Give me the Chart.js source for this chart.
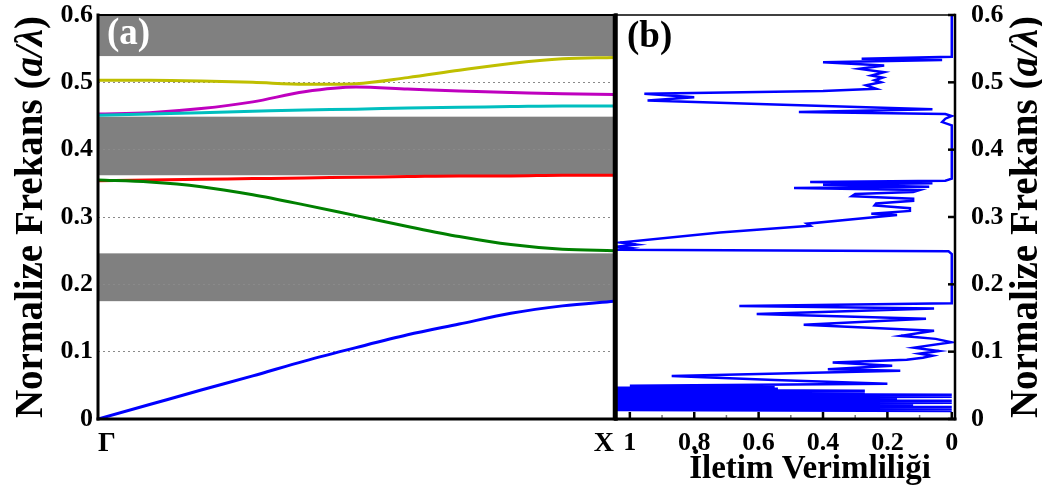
<!DOCTYPE html>
<html>
<head>
<meta charset="utf-8">
<script src="https://cdn.jsdelivr.net/npm/chart.js@4.4.0/dist/chart.umd.min.js"></script>
<style>
  html, body { margin: 0; padding: 0; background: #fff; }
  #wrap { position: relative; width: 1042px; height: 495px; overflow: hidden; }
  #bandChart { position: absolute; left: 0; top: 0; }
  #transChart { position: absolute; left: 600px; top: 0; }
</style>
</head>
<body>
<div id="wrap">
  <canvas id="bandChart" width="616" height="495"></canvas>
  <canvas id="transChart" width="442" height="495"></canvas>
</div>
<script>
// ---- panel (a): band structure, Gamma -> X ----
const kPath = [0, 0.1, 0.2, 0.3, 0.4, 0.5, 0.6, 0.7, 0.8, 0.9, 1];
const kLabels = ['Γ', 'X'];
const band1 = [0, 0.0215, 0.043, 0.064, 0.086, 0.106, 0.125, 0.141, 0.157, 0.168, 0.175];
const band2 = [0.355, 0.352, 0.345, 0.333, 0.318, 0.302, 0.286, 0.271, 0.259, 0.252, 0.250];
const band3 = [0.354, 0.355, 0.356, 0.357, 0.358, 0.359, 0.360, 0.361, 0.361, 0.362, 0.362];
const band4 = [0.451, 0.453, 0.455, 0.457, 0.459, 0.460, 0.462, 0.463, 0.464, 0.465, 0.465];
const band5 = [0.453, 0.455, 0.461, 0.471, 0.486, 0.493, 0.490, 0.487, 0.485, 0.483, 0.482];
const band6 = [0.503, 0.503, 0.502, 0.500, 0.497, 0.498, 0.507, 0.518, 0.528, 0.535, 0.537];
const bands = [band1, band2, band3, band4, band5, band6];
const bandColors = ['#0000ff', '#008000', '#ff0000', '#00bfbf', '#bf00bf', '#bfbf00'];
const gapRanges = [[0.175, 0.246], [0.362, 0.449], [0.539, 0.6]];
const freqTicks = [0, 0.1, 0.2, 0.3, 0.4, 0.5, 0.6];

// ---- panel (b): transmission vs frequency ----
const transTicks = [0, 0.2, 0.4, 0.6, 0.8, 1];
const transMinor = [0.1, 0.3, 0.5, 0.7, 0.9];
const transF = [
  0.012, 0.0135, 0.015, 0.0165, 0.018, 0.0195, 0.021, 0.0225, 0.024, 0.0255,
  0.027, 0.0285, 0.030, 0.0315, 0.033, 0.0345, 0.036, 0.0375, 0.039, 0.0405,
  0.042, 0.0435, 0.045, 0.0465, 0.048, 0.0495, 0.0525, 0.058, 0.064, 0.0715,
  0.074, 0.079, 0.084, 0.088, 0.091, 0.094, 0.097, 0.101, 0.106, 0.114,
  0.119, 0.1235, 0.131, 0.140, 0.149, 0.156, 0.164, 0.168, 0.172, 0.245,
  0.249, 0.2515, 0.254, 0.256, 0.259, 0.262, 0.277, 0.287, 0.290, 0.300,
  0.303, 0.305, 0.309, 0.313, 0.317, 0.320, 0.324, 0.327, 0.331, 0.334,
  0.337, 0.340, 0.343, 0.345, 0.348, 0.350, 0.352, 0.354, 0.357, 0.436,
  0.441, 0.446, 0.450, 0.453, 0.456, 0.460, 0.467, 0.473, 0.478, 0.483,
  0.487, 0.4905, 0.4955, 0.500, 0.503, 0.507, 0.510, 0.515, 0.520, 0.525,
  0.530, 0.533, 0.535, 0.538, 0.600
];
const transT = [
  0.00, 1.04, 0.00, 1.04, 0.00, 1.04, 0.12, 1.04, 0.00, 1.04,
  0.00, 1.04, 0.17, 1.04, 0.00, 1.04, 0.00, 1.04, 0.27, 1.04,
  0.27, 1.04, 0.54, 1.04, 0.55, 1.00, 0.20, 0.55, 0.87, 0.16,
  0.385, 0.185, 0.37, 0.14, 0.09, 0.06, 0.10, 0.04, 0.117, 0.00,
  0.05, 0.158, 0.055, 0.46, 0.08, 0.606, 0.055, 0.66, 0.00, 0.00,
  0.01, 1.04, 1.00, 1.04, 0.98, 1.03, 0.72, 0.44, 0.45, 0.235,
  0.17, 0.25, 0.13, 0.13, 0.24, 0.235, 0.12, 0.12, 0.31, 0.30,
  0.12, 0.10, 0.49, 0.07, 0.40, 0.06, 0.44, 0.02, 0.00, 0.00,
  0.03, 0.02, 0.00, 0.02, 0.475, 0.06, 0.55, 0.945, 0.80, 0.955,
  0.40, 0.235, 0.266, 0.22, 0.24, 0.215, 0.25, 0.21, 0.287, 0.21,
  0.40, 0.03, 0.28, 0.00, 0.00
];

const SERIF = '"Liberation Serif", "Times New Roman", serif';
const tickFont = { family: SERIF, size: 26, weight: 'bold' };
const freqTitle = [{ text: 'Normalize Frekans (' }, { text: 'a/λ', italic: true }, { text: ')' }];

// draws mixed normal/italic text centred on (x, y)
function drawRich(ctx, parts, x, y, rot, size) {
  ctx.save();
  ctx.translate(x, y);
  ctx.rotate(rot);
  ctx.textBaseline = 'alphabetic';
  ctx.textAlign = 'left';
  ctx.fillStyle = '#000';
  const fonts = parts.map(p => (p.italic ? 'italic ' : '') + 'bold ' + size + 'px ' + SERIF);
  let total = 0;
  const widths = parts.map((p, i) => {
    ctx.font = fonts[i];
    const w = ctx.measureText(p.text).width;
    total += w;
    return w;
  });
  let cx = -total / 2;
  parts.forEach((p, i) => {
    ctx.font = fonts[i];
    ctx.fillText(p.text, cx, 0);
    cx += widths[i];
  });
  ctx.restore();
}

function drawFrame(ctx, a, wLeft, wBottom, wRight, wTop) {
  ctx.save();
  ctx.strokeStyle = '#000';
  ctx.lineCap = 'square';
  const seg = (w, x1, y1, x2, y2) => {
    ctx.lineWidth = w;
    ctx.beginPath();
    ctx.moveTo(x1, y1);
    ctx.lineTo(x2, y2);
    ctx.stroke();
  };
  seg(wTop, a.left, a.top, a.right, a.top);
  seg(wRight, a.right, a.top, a.right, a.bottom);
  seg(wBottom, a.left, a.bottom, a.right, a.bottom);
  seg(wLeft, a.left, a.top, a.left, a.bottom);
  ctx.restore();
}

const fixedTicks = arr => scale => { scale.ticks = arr.map(v => ({ value: v })); };
const fmt = v => String(+Number(v).toFixed(1));

// gray photonic band gaps, under the grid
const gapPlugin = {
  id: 'gaps',
  beforeDraw(chart) {
    const { ctx, chartArea: a, scales: { y } } = chart;
    ctx.save();
    ctx.fillStyle = '#808080';
    gapRanges.forEach(([lo, hi]) => {
      const top = y.getPixelForValue(hi);
      const bot = y.getPixelForValue(lo);
      ctx.fillRect(a.left, top, a.right - a.left, bot - top);
    });
    ctx.restore();
  }
};

const bandDecor = {
  id: 'bandDecor',
  afterDraw(chart) {
    const { ctx, chartArea: a } = chart;
    drawFrame(ctx, a, 3, 3, 2.5, 2);
    ctx.save();
    ctx.fillStyle = '#fff';
    ctx.font = 'bold 37px ' + SERIF;
    ctx.textBaseline = 'alphabetic';
    ctx.fillText('(a)', a.left + 9, a.top + 29);
    ctx.restore();
    drawRich(ctx, freqTitle, 42, (a.top + a.bottom) / 2, -Math.PI / 2, 39);
  }
};

const transDecor = {
  id: 'transDecor',
  afterDraw(chart) {
    const { ctx, chartArea: a, scales: { x, y } } = chart;
    ctx.save();
    // inward tick marks
    ctx.lineCap = 'butt';
    ctx.strokeStyle = '#000';
    ctx.lineWidth = 2.5;
    transTicks.forEach(v => {
      const px = x.getPixelForValue(v);
      ctx.beginPath(); ctx.moveTo(px, a.bottom); ctx.lineTo(px, a.bottom - 7); ctx.stroke();
    });
    freqTicks.forEach(v => {
      const py = y.getPixelForValue(v);
      ctx.beginPath(); ctx.moveTo(a.right, py); ctx.lineTo(a.right - 7, py); ctx.stroke();
    });
    ctx.strokeStyle = '#777';
    ctx.lineWidth = 1.5;
    transMinor.forEach(v => {
      const px = x.getPixelForValue(v);
      ctx.beginPath(); ctx.moveTo(px, a.bottom); ctx.lineTo(px, a.bottom - 4); ctx.stroke();
    });
    ctx.restore();
    drawFrame(ctx, a, 3.5, 3, 2.5, 1.5);
    ctx.save();
    ctx.fillStyle = '#000';
    ctx.font = 'bold 37px ' + SERIF;
    ctx.textBaseline = 'alphabetic';
    ctx.fillText('(b)', a.left + 11, a.top + 32);
    ctx.restore();
    drawRich(ctx, freqTitle, 437, (a.top + a.bottom) / 2, -Math.PI / 2, 39);
    drawRich(ctx, [{ text: 'İletim Verimliliği' }], 210, 478, 0, 33);
  }
};

new Chart(document.getElementById('bandChart'), {
  type: 'line',
  data: {
    datasets: bands.map((b, i) => ({
      data: kPath.map((k, j) => ({ x: k, y: b[j] })),
      borderColor: bandColors[i],
      borderWidth: 3,
      pointRadius: 0,
      cubicInterpolationMode: 'monotone'
    }))
  },
  options: {
    responsive: false,
    animation: false,
    layout: { padding: { top: 15, right: 2, left: 0, bottom: 0 } },
    plugins: { legend: { display: false }, tooltip: { enabled: false } },
    scales: {
      x: {
        type: 'linear', min: 0, max: 1,
        afterBuildTicks: fixedTicks([0, 1]),
        afterFit: s => { s.height = 76; s.paddingLeft = 0; s.paddingRight = 0; },
        ticks: { align: 'inner', padding: 0, color: '#000', font: { family: SERIF, size: 28, weight: 'bold' },
                 maxRotation: 0, callback: (v, i) => kLabels[i] },
        grid: { display: false },
        border: { display: false }
      },
      y: {
        min: 0, max: 0.6,
        afterBuildTicks: fixedTicks(freqTicks),
        afterFit: s => { s.width = 98; s.paddingTop = 0; s.paddingBottom = 0; },
        ticks: { padding: 5, color: '#000', font: tickFont, callback: fmt },
        grid: { color: '#8a8a8a', lineWidth: 1, drawTicks: false },
        border: { display: false, dash: [2, 3] }
      }
    }
  },
  plugins: [gapPlugin, bandDecor]
});

new Chart(document.getElementById('transChart'), {
  type: 'line',
  data: {
    datasets: [{
      data: transT.map((t, i) => ({ x: t, y: transF[i] })),
      borderColor: '#0000ff',
      borderWidth: 2.5,
      pointRadius: 0,
      tension: 0
    }]
  },
  options: {
    responsive: false,
    animation: false,
    layout: { padding: { top: 15, right: 0, left: 16, bottom: 0 } },
    plugins: { legend: { display: false }, tooltip: { enabled: false } },
    scales: {
      x: {
        type: 'linear', reverse: true, min: -0.01, max: 1.043,
        afterBuildTicks: fixedTicks(transTicks),
        afterFit: s => { s.height = 76; s.paddingLeft = 0; s.paddingRight = 0; },
        ticks: { padding: 1, color: '#000', font: tickFont, maxRotation: 0, callback: fmt },
        grid: { display: false },
        border: { display: false }
      },
      y: {
        position: 'right', min: 0, max: 0.6,
        afterBuildTicks: fixedTicks(freqTicks),
        afterFit: s => { s.width = 87; s.paddingTop = 0; s.paddingBottom = 0; },
        ticks: { padding: 8, color: '#000', font: tickFont, callback: fmt },
        grid: { display: false },
        border: { display: false }
      }
    }
  },
  plugins: [transDecor]
});
</script>
</body>
</html>
